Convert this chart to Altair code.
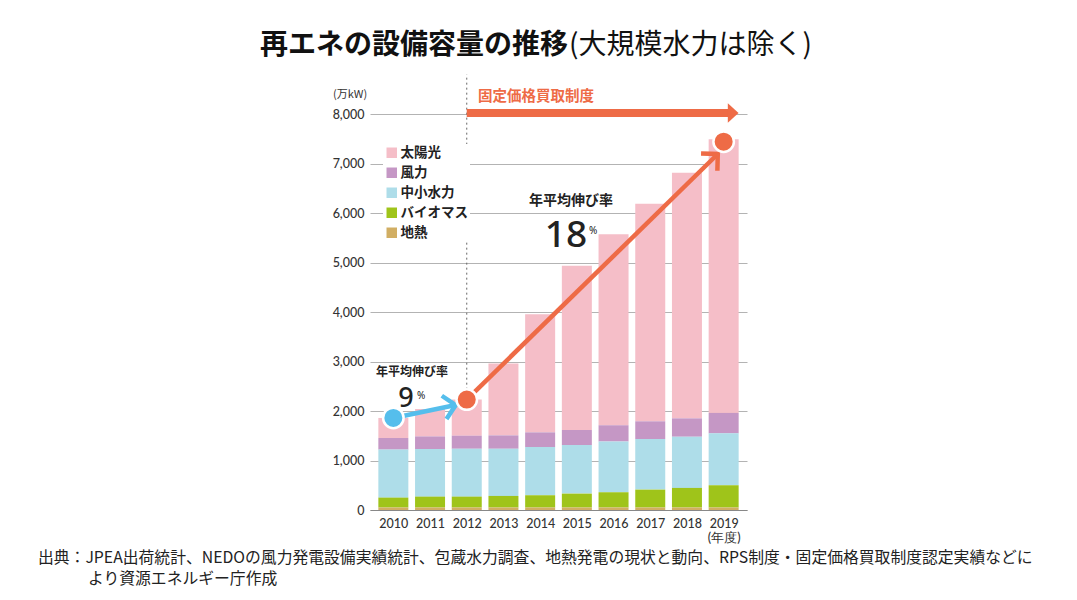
import math
import altair as alt
import pandas as pd

years = [2010, 2011, 2012, 2013, 2014, 2015, 2016, 2017, 2018, 2019]
solar = [406, 553, 729, 1453, 2386, 3319, 3861, 4395, 4963, 5529]
wind = [234, 256, 264, 271, 298, 305, 324, 359, 372, 413]
hydro = [970, 961, 967, 953, 973, 980, 1028, 1021, 1034, 1048]
biomass = [200, 220, 220, 234, 248, 281, 308, 362, 396, 450]
geothermal = [50, 50, 50, 50, 50, 50, 50, 50, 50, 50]

series_names = ["太陽光", "風力", "中小水力", "バイオマス", "地熱"]
series_colors = ["#F5BEC8", "#C597C5", "#AEDDE9", "#9FC41A", "#D1AE63"]
series_values = [solar, wind, hydro, biomass, geothermal]

# annotation anchor values (data units)
blue_start = (2010, 1860)
blue_tip = (2011.7, 2121)
orange_start = (2012, 2230)
orange_tip = (2018.84, 7192)
orange_end = (2019, 7440)
fit_start = 2012
fit_end = 2019.26
fit_level = 8020
divider_top = 8800
divider_bottom = 2330

W, H = 377, 396
XDOM = [2009.5, 2019.5]
YDOM = [0, 8000]
ORANGE = "#EE6B46"
BLUE = "#55BEEC"
FONT = "Noto Sans CJK JP"

rows = []
for name, vals in zip(series_names, series_values):
    for y, v in zip(years, vals):
        rows.append({"year": y, "series": name, "value": v,
                     "ord": 4 - series_names.index(name)})
df = pd.DataFrame(rows)

xs = alt.Scale(domain=XDOM, nice=False, zero=False)
ys = alt.Scale(domain=YDOM, nice=False)


def X(f, **kw):
    return alt.X(f, type="quantitative", scale=xs, **kw)


def Y(f, **kw):
    return alt.Y(f, type="quantitative", scale=ys, **kw)


bars = alt.Chart(df).mark_bar(size=30).encode(
    x=X("year", axis=alt.Axis(values=years, format="d", grid=False, ticks=False,
                             domainColor="#888", labelPadding=7, labelFontSize=12.5,
                             labelColor="#333", labelFont="Lato", labelFontWeight=500,
                             title=None,
                             labelExpr="datum.value == 2019 ? ['2019', '(年度)'] : datum.label")),
    y=Y("value", stack="zero",
        axis=alt.Axis(values=list(range(0, 8001, 1000)), format=",d", ticks=False,
                      domain=False, gridColor="#a0a0a0", gridWidth=0.8,
                      labelPadding=6, labelFontSize=12.5, labelColor="#333",
                      labelFont="Lato", labelFontWeight=500, title=None)),
    color=alt.Color("series:N",
                    scale=alt.Scale(domain=series_names, range=series_colors),
                    legend=alt.Legend(title=None, orient="none", legendX=13, legendY=30,
                                      symbolType="square", symbolSize=110,
                                      symbolStrokeWidth=0, labelFontSize=13.5,
                                      labelFont=FONT, labelFontWeight="bold",
                                      labelColor="#222",
                                      rowPadding=5, fillColor="white",
                                      padding=2, labelOffset=2)),
    order=alt.Order("ord:Q", sort="ascending"),
)

# dashed divider at FIT start
div_df = pd.DataFrame({"x": [fit_start], "y": [divider_bottom], "y2": [divider_top]})
divider = alt.Chart(div_df).mark_rule(strokeDash=[2, 3], color="#666", strokeWidth=1,
                                      clip=False).encode(
    x=X("x"), y=Y("y"), y2="y2")

# FIT arrow
fit_df = pd.DataFrame({"x": [fit_start], "x2": [fit_end], "y": [fit_level]})
fit_bar = alt.Chart(fit_df).mark_rule(color=ORANGE, strokeWidth=8, clip=False).encode(
    x=X("x"), x2="x2", y=Y("y"))
fit_head_df = pd.DataFrame({"x": [fit_end], "y": [fit_level]})
fit_head = alt.Chart(fit_head_df).mark_point(
    shape="M-0.55,-1L0.55,0L-0.55,1Z", filled=True, color=ORANGE, size=380,
    opacity=1, clip=False).encode(x=X("x"), y=Y("y"))

# growth arrows
px_per_x = W / (XDOM[1] - XDOM[0])
px_per_y = H / (YDOM[1] - YDOM[0])


def heading(a, b):
    dx = (b[0] - a[0]) * px_per_x
    dy = (b[1] - a[1]) * px_per_y
    ang = -math.degrees(math.atan2(dy, dx))
    return ang % 360


cscale = alt.Scale(domain=["blue", "orange"], range=[BLUE, ORANGE])

lines_df = pd.DataFrame([
    {"k": "blue", "x": blue_start[0], "y": blue_start[1], "x2": blue_tip[0], "y2": blue_tip[1]},
    {"k": "orange", "x": orange_start[0], "y": orange_start[1], "x2": orange_tip[0], "y2": orange_tip[1]},
])
arrow_lines = alt.Chart(lines_df).mark_rule(strokeWidth=4.5, clip=False).encode(
    x=X("x"), y=Y("y"), x2="x2", y2="y2",
    color=alt.Color("k:N", scale=cscale, legend=None))

heads_df = pd.DataFrame([
    {"k": "blue", "x": blue_tip[0], "y": blue_tip[1], "a": heading(blue_start, blue_tip)},
    {"k": "orange", "x": orange_tip[0], "y": orange_tip[1], "a": heading(orange_start, orange_tip)},
])
heads = alt.Chart(heads_df).mark_point(
    shape="M-1,-1L0,0L-1,1", filled=False, strokeWidth=4.5, size=560, opacity=1,
    strokeCap="butt", strokeJoin="miter", clip=False).encode(
    x=X("x"), y=Y("y"), angle=alt.Angle("a:Q", scale=None),
    color=alt.Color("k:N", scale=cscale, legend=None))

dots_df = pd.DataFrame([
    {"k": "blue", "x": blue_start[0], "y": blue_start[1]},
    {"k": "orange", "x": orange_start[0], "y": orange_start[1]},
    {"k": "orange", "x": orange_end[0], "y": orange_end[1]},
])
dots = alt.Chart(dots_df).mark_circle(size=420, opacity=1, stroke="white",
                                      strokeWidth=2.5, clip=False).encode(
    x=X("x"), y=Y("y"),
    color=alt.Color("k:N", scale=cscale, legend=None))

one = pd.DataFrame({"a": [0]})


def txt(text, x, y, size, align="center", weight="normal", color="#222", font=FONT,
        baseline="middle"):
    return alt.Chart(one).mark_text(text=text, align=align, baseline=baseline,
                                    fontSize=size, fontWeight=weight, color=color,
                                    font=font).encode(x=alt.value(x), y=alt.value(y))


texts = [
    txt("再エネの設備容量の推移", 198, -68, 28, align="right", weight="bold", color="#111"),
    txt("(大規模水力は除く)", 199, -68, 28, align="left", color="#111"),
    txt("(万kW)", -37, -19, 11, align="left", color="#333"),
    txt("固定価格買取制度", 108, -17, 14.5, align="left", weight="bold", color=ORANGE),
    txt("年平均伸び率", 42, 258, 12, weight="bold"),
    txt("9", 36, 285, 27, font="Noto Sans", weight=500),
    txt("%", 47, 282, 10, align="left", font="Noto Sans"),
    txt("年平均伸び率", 201, 87, 14, weight="bold"),
    txt("18", 196, 122, 37, font="Noto Sans", weight=500),
    txt("%", 219, 117, 10, align="left", font="Noto Sans"),
    txt("出典：JPEA出荷統計、NEDOの風力発電設備実績統計、包蔵水力調査、地熱発電の現状と動向、RPS制度・固定価格買取制度認定実績などに",
        -332, 444, 15.8, align="left", color="#222"),
    txt("より資源エネルギー庁作成", -282, 465, 15.8, align="left", color="#222"),
]

chart = alt.layer(bars, divider, fit_bar, fit_head, arrow_lines, heads, dots, *texts).properties(
    width=W, height=H,
    autosize=alt.AutoSizeParams(type="none"),
    padding={"left": 362, "top": 106, "right": 322, "bottom": 84},
).resolve_scale(color="independent").configure_view(stroke=None)

chart.save("out.html", embed_options={"renderer": "svg", "actions": False})
